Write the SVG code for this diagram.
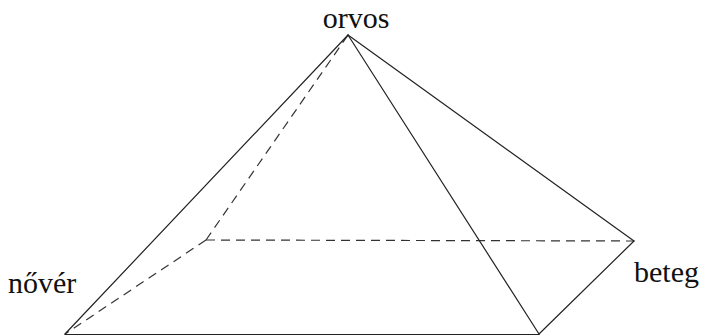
<svg xmlns="http://www.w3.org/2000/svg" width="703" height="336" viewBox="0 0 703 336">
<style>
.s{stroke:#222;stroke-width:1.2;fill:none;stroke-linecap:round}
.d{stroke:#333;stroke-width:1.2;fill:none;stroke-dasharray:9 6}
.t{font-family:"Liberation Serif",serif;font-size:30px;fill:#111}
</style>
<rect width="703" height="336" fill="#fff"/>
<g id="connectors">
<line class="d" x1="206" y1="240" x2="348" y2="35"/>
<line class="d" x1="206" y1="240" x2="65" y2="334"/>
<line class="d" x1="206" y1="240" x2="634" y2="241"/>
<line class="s" x1="348" y1="35" x2="65" y2="334"/>
<line class="s" x1="348" y1="35" x2="539" y2="334"/>
<line class="s" x1="348" y1="35" x2="634" y2="241"/>
<line class="s" x1="634" y1="241" x2="539" y2="334"/>
<line class="s" x1="65" y1="334.5" x2="539" y2="334.5" stroke="#888"/>
</g>
<g id="orvos"><text class="t" x="356" y="28" text-anchor="middle">orvos</text></g>
<g id="nover"><text class="t" x="8" y="293">nővér</text></g>
<g id="beteg"><text class="t" x="634" y="282">beteg</text></g>
</svg>
